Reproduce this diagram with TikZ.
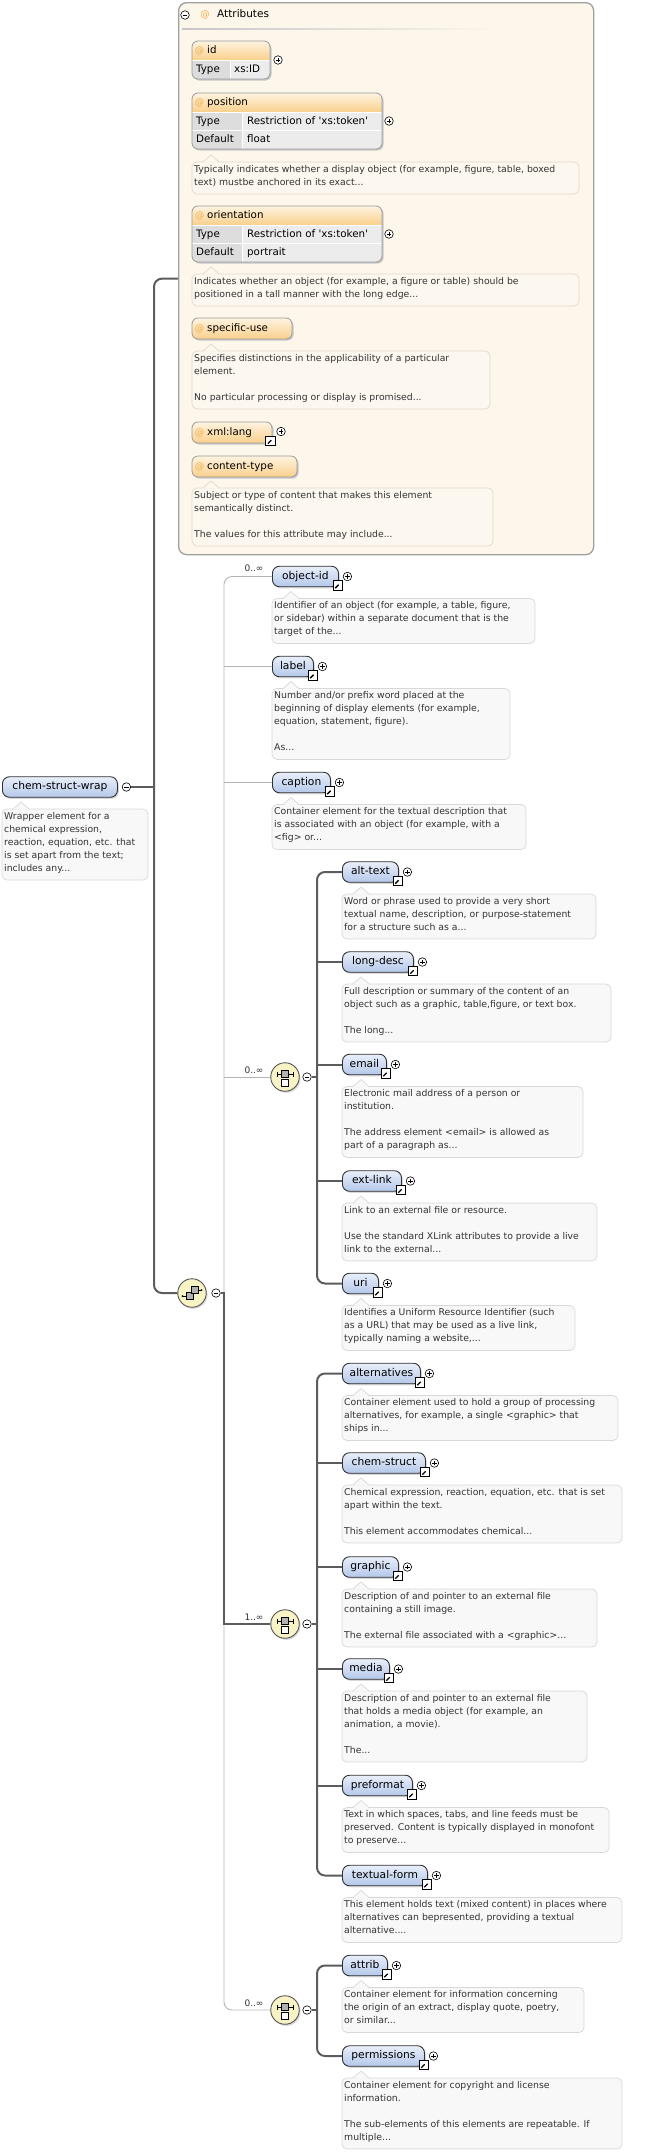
\documentclass[tikz,border=0pt]{standalone}
\usepackage{fontspec}
\setmainfont{DejaVu Sans}
\usetikzlibrary{shadows}
\definecolor{elemtop}{HTML}{E9EFFA}
\definecolor{elembot}{HTML}{B4C8EA}
\definecolor{elemborder}{HTML}{303030}
\definecolor{attrtop}{HTML}{FEF3E0}
\definecolor{attrbot}{HTML}{FAD08C}
\definecolor{attrborder}{HTML}{9A9A9A}
\definecolor{attrcell}{HTML}{ECECEC}
\definecolor{attrtype}{HTML}{DDDDDD}
\definecolor{attrbg}{HTML}{FDF6EA}
\definecolor{attrcontborder}{HTML}{A0A0A0}
\definecolor{descbg}{HTML}{F8F8F8}
\definecolor{descborder}{HTML}{D8D8D8}
\definecolor{adescbg}{HTML}{FCF8F0}
\definecolor{adescborder}{HTML}{E3D9C8}
\definecolor{textgray}{HTML}{333333}
\definecolor{seqfill}{HTML}{F8F3C4}
\definecolor{seqborder}{HTML}{555555}
\definecolor{thickcol}{HTML}{5C5C5C}
\definecolor{thincol}{HTML}{B4B4B4}
\definecolor{atcol}{HTML}{EFAF50}

\newcommand\desc[7]{% kind, name, x, ytop, w, h, text
  \draw[descbox#1] (#3,#4) rectangle ++(#5,#6);
  \fill[descfill#1] (#3+11,#4+0.7) -- (#3+19,#4-7) -- (#3+27,#4+0.7) -- cycle;
  \draw[descline#1] (#3+11,#4) -- (#3+19,#4-7) -- (#3+27,#4);
  \node[desctext, anchor=north west] (#2) at (#3+2,#4+3) {#7};
}
\newcommand\elem[8]{% name, x, y, w, label, descw, nslots, text
  \node[elembox, minimum width=#4pt, anchor=west] (#1) at (#2,#3) {#5};
  \node[plusc] (#1-p) at ([xshift=8.5pt]#1.east) {};
  \node[linkic] (#1-l) at ([xshift=-1pt,yshift=-9pt]#1.east) {};
  \desc{e}{#1-d}{#2}{#3+22}{#6}{#7*13+6}{#8}%
}
\newcommand\attrtwo[7]{% name, ytop, w, typew, title, type, default
  \fill[black!22, rounded corners=6pt] (193.5,#2+1.5) rectangle (192+#3+1.5,#2+57.5);
  \begin{scope}
    \clip[rounded corners=6pt] (192,#2) rectangle (192+#3,#2+56);
    \fill[attrcell] (192,#2) rectangle (192+#3,#2+56);
    \shade[top color=attrtop,bottom color=attrbot] (192,#2) rectangle (192+#3,#2+19);
    \fill[attrtype] (192,#2+19) rectangle (192+#4,#2+56);
    \draw[white,line width=0.9pt] (192,#2+19) -- (192+#3,#2+19) (192,#2+37.5) -- (192+#3,#2+37.5) (192+#4,#2+19) -- (192+#4,#2+56);
  \end{scope}
  \draw[attrborder, line width=0.8pt, rounded corners=6pt] (192,#2) rectangle (192+#3,#2+56);
  \node[atlbl] (#1-at) at (199.5,#2+9.5) {@};
  \node[attrlbl] (#1) at (207,#2+9.5) {#5};
  \node[attrlbl] (#1-t) at (196,#2+28.5) {Type};
  \node[attrlbl] (#1-tv) at (192+#4+5,#2+28.5) {#6};
  \node[attrlbl] (#1-d) at (196,#2+47) {Default};
  \node[attrlbl] (#1-dv) at (192+#4+5,#2+47) {#7};
  \node[plusc] (#1-p) at (192+#3+7,#2+28) {};
}
\newcommand\attrone[4]{% name, ytop, w, title
  \fill[black!22, rounded corners=6pt] (193.5,#2+1.5) rectangle (192+#3+1.5,#2+22.5);
  \shade[top color=attrtop,bottom color=attrbot, rounded corners=6pt] (192,#2) rectangle (192+#3,#2+21);
  \draw[attrborder, line width=0.8pt, rounded corners=6pt] (192,#2) rectangle (192+#3,#2+21);
  \node[atlbl] (#1-at) at (199.5,#2+10.5) {@};
  \node[attrlbl] (#1) at (207,#2+10.5) {#4};
}
\newcommand\choiceicon[2]{%
  \draw[black, line width=0.7pt] (#1-8,#2-3) -- (#1+8,#2-3) (#1-8,#2-5.5) -- (#1-8,#2-0.5) (#1+8,#2-5.5) -- (#1+8,#2-0.5);
  \filldraw[fill=gray!60, draw=black, line width=0.6pt] (#1-3.5,#2-6.5) rectangle (#1+3.5,#2+0.5);
  \filldraw[fill=white, draw=black, line width=0.6pt] (#1-3.5,#2+2.5) rectangle (#1+3.5,#2+9.5);
}

\begin{document}
\begin{tikzpicture}[x=1pt,y=-1pt,
  elembox/.style={draw=elemborder, line width=0.9pt, rounded corners=7pt,
    top color=elemtop, bottom color=elembot, minimum height=20.5pt, inner xsep=5pt, inner ysep=0pt,
    font=\fontsize{10.7}{12}\selectfont, text height=7.8pt, text depth=2.3pt,
    drop shadow={shadow xshift=1.3pt, shadow yshift=-1.6pt, opacity=0.3}},
  plusc/.style={circle, draw, fill=white, line width=0.6pt, minimum size=8.5pt, inner sep=0pt,
    path picture={\draw[line width=0.6pt] ([xshift=-2.4pt]path picture bounding box.center) -- ([xshift=2.4pt]path picture bounding box.center) ([yshift=-2.4pt]path picture bounding box.center) -- ([yshift=2.4pt]path picture bounding box.center);}},
  minusc/.style={circle, draw, fill=white, line width=0.6pt, minimum size=8.5pt, inner sep=0pt,
    path picture={\draw[line width=0.6pt] ([xshift=-2.4pt]path picture bounding box.center) -- ([xshift=2.4pt]path picture bounding box.center);}},
  linkic/.style={draw, line width=0.9pt, fill=white, minimum size=9.5pt, inner sep=0pt,
    path picture={\draw[line width=1.3pt] ([shift={(-2.6pt,-2.6pt)}]path picture bounding box.center) -- ([shift={(1pt,1pt)}]path picture bounding box.center);
      \fill ([shift={(3pt,3pt)}]path picture bounding box.center) -- ([shift={(-1.2pt,3pt)}]path picture bounding box.center) -- ([shift={(3pt,-1.2pt)}]path picture bounding box.center) -- cycle;}},
  descboxe/.style={draw=descborder, fill=descbg, rounded corners=5pt, line width=0.7pt},
  descfille/.style={fill=descbg},
  desclinee/.style={draw=descborder, line width=0.7pt},
  descboxa/.style={draw=adescborder, fill=adescbg, rounded corners=5pt, line width=0.7pt},
  descfilla/.style={fill=adescbg},
  desclinea/.style={draw=adescborder, line width=0.7pt},
  desctext/.style={inner sep=0pt, align=left, text=textgray, font=\fontsize{9.3}{13}\selectfont,
    execute at begin node=\strut, execute at end node=\strut},
  attrlbl/.style={anchor=west, inner sep=0pt, font=\fontsize{10.3}{12}\selectfont, text height=7.6pt, text depth=2.2pt},
  atlbl/.style={inner sep=0pt, text=atcol, font=\fontsize{9.5}{12}\selectfont, text height=7pt, text depth=2pt},
  seqc/.style={circle, draw=seqborder, line width=0.9pt, fill=seqfill, minimum size=28.5pt, inner sep=0pt,
    drop shadow={shadow xshift=1.3pt, shadow yshift=-1.6pt, opacity=0.3}},
  occ/.style={inner sep=0pt, font=\fontsize{9}{11}\selectfont, text=textgray},
  thickc/.style={draw=thickcol, line width=2pt},
  thinc/.style={draw=thincol, line width=0.9pt}
]
\useasboundingbox (0,0) rectangle (648,2153);

% ---------- Attributes container ----------
\node[draw=attrcontborder, line width=1.3pt, fill=attrbg, rounded corners=8pt, anchor=north west,
  minimum width=415pt, minimum height=552pt, inner sep=0pt] (attrs) at (178,2) {};
\node[minusc] (attrs-m) at (185,15) {};
\node[atlbl] (attrs-at) at (205,15) {@};
\node[attrlbl, font=\fontsize{10.5}{12}\selectfont] (attrs-t) at (217,15) {Attributes};
\shade[left color=black!22, right color=attrbg] (182,28.6) rectangle (500,29.6);

% id
\fill[black!22, rounded corners=6pt] (193.5,42.5) rectangle (271.5,80.5);
\begin{scope}
  \clip[rounded corners=6pt] (192,41) rectangle (270,79);
  \fill[attrcell] (192,41) rectangle (270,79);
  \shade[top color=attrtop,bottom color=attrbot] (192,41) rectangle (270,60);
  \fill[attrtype] (192,60) rectangle (230,79);
  \draw[white,line width=0.9pt] (192,60) -- (270,60) (230,60) -- (230,79);
\end{scope}
\draw[attrborder, line width=0.8pt, rounded corners=6pt] (192,41) rectangle (270,79);
\node[atlbl] (id-at) at (199.5,50.5) {@};
\node[attrlbl] (id) at (207,50.5) {id};
\node[attrlbl] (id-t) at (196,69.5) {Type};
\node[attrlbl] (id-tv) at (234,69.5) {xs:ID};
\node[plusc] (id-p) at (278,60) {};

\attrtwo{position}{93}{190}{50}{position}{Restriction of \textquotesingle xs:token\textquotesingle}{float}
\desc{a}{position-d}{192}{162}{387}{32}{Typically indicates whether a display object (for example, figure, table, boxed\\text) mustbe anchored in its exact...}

\attrtwo{orientation}{206}{190}{50}{orientation}{Restriction of \textquotesingle xs:token\textquotesingle}{portrait}
\desc{a}{orientation-d}{192}{274}{387}{32}{Indicates whether an object (for example, a figure or table) should be\\positioned in a tall manner with the long edge...}

\attrone{specuse}{318}{100}{specific-use}
\desc{a}{specuse-d}{192}{351}{298}{58}{Specifies distinctions in the applicability of a particular\\element.\\[13pt]No particular processing or display is promised...}

\attrone{xmllang}{422}{80}{xml:lang}
\node[plusc] (xmllang-p) at (281,431.5) {};
\node[linkic] (xmllang-l) at (270.5,441) {};

\attrone{ctype}{456}{105}{content-type}
\desc{a}{ctype-d}{192}{488}{301}{58}{Subject or type of content that makes this element\\semantically distinct.\\[13pt]The values for this attribute may include...}

% ---------- root element ----------
\node[elembox, minimum width=115pt, anchor=west] (wrap) at (2,787) {chem-struct-wrap};
\node[minusc] (wrap-m) at ([xshift=8.5pt]wrap.east) {};
\desc{e}{wrap-d}{2}{809}{146}{71}{Wrapper element for a\\chemical expression,\\reaction, equation, etc. that\\is set apart from the text;\\includes any...}

% ---------- sequence & choices ----------
\node[seqc] (seq) at (192,1293) {};
\filldraw[fill=gray!60, draw=black, line width=0.6pt] (186,1292.5) rectangle (193,1299.5);
\filldraw[fill=gray!60, draw=black, line width=0.6pt] (191,1286.5) rectangle (198,1293.5);
\draw[black, line width=0.7pt] (182.5,1296) -- (186,1296) (198,1290) -- (201.5,1290);
\fill (182.5,1296) circle (1pt) (201.5,1290) circle (1pt);
\node[minusc] (seq-m) at (216,1293) {};

\node[seqc] (ch1) at (285,1077) {};
\choiceicon{285}{1077}
\node[minusc] (ch1-m) at (307,1077) {};
\node[occ] (ch1-o) at (254,1070) {0..∞};

\node[seqc] (ch2) at (285,1624) {};
\choiceicon{285}{1624}
\node[minusc] (ch2-m) at (307,1624) {};
\node[occ] (ch2-o) at (254,1617) {1..∞};

\node[seqc] (ch3) at (285,2010) {};
\choiceicon{285}{2010}
\node[minusc] (ch3-m) at (307,2010) {};
\node[occ] (ch3-o) at (254,2003) {0..∞};

% ---------- sequence children ----------
\elem{objid}{272}{576.5}{66}{object-id}{263}{3}{Identifier of an object (for example, a table, figure,\\or sidebar) within a separate document that is the\\target of the...}
\node[occ] (objid-o) at (254,568) {0..∞};
\elem{label}{272}{666.5}{41}{label}{238}{5}{Number and/or prefix word placed at the\\beginning of display elements (for example,\\equation, statement, figure).\\[13pt]As...}
\elem{caption}{272}{782.5}{58}{caption}{254}{3}{Container element for the textual description that\\is associated with an object (for example, with a\\<fig> or...}

% choice 1 children
\elem{alttext}{342}{872}{56}{alt-text}{254}{3}{Word or phrase used to provide a very short\\textual name, description, or purpose-statement\\for a structure such as a...}
\elem{longdesc}{342}{962}{71}{long-desc}{269}{4}{Full description or summary of the content of an\\object such as a graphic, table,figure, or text box.\\[13pt]The long...}
\elem{email}{342}{1064.5}{44}{email}{241}{5}{Electronic mail address of a person or\\institution.\\[13pt]The address element <email> is allowed as\\part of a paragraph as...}
\elem{extlink}{342}{1181}{59}{ext-link}{255}{4}{Link to an external file or resource.\\[13pt]Use the standard XLink attributes to provide a live\\link to the external...}
\elem{uri}{342}{1283.5}{36}{uri}{233}{3}{Identifies a Uniform Resource Identifier (such\\as a URL) that may be used as a live link,\\typically naming a website,...}

% choice 2 children
\elem{alternatives}{342}{1373.5}{78}{alternatives}{276}{3}{Container element used to hold a group of processing\\alternatives, for example, a single <graphic> that\\ships in...}
\elem{chemstruct}{342}{1463}{83}{chem-struct}{280}{4}{Chemical expression, reaction, equation, etc. that is set\\apart within the text.\\[13pt]This element accommodates chemical...}
\elem{graphic}{342}{1567}{56}{graphic}{255}{4}{Description of and pointer to an external file\\containing a still image.\\[13pt]The external file associated with a <graphic>...}
\elem{media}{342}{1669}{47}{media}{245}{5}{Description of and pointer to an external file\\that holds a media object (for example, an\\animation, a movie).\\[13pt]The...}
\elem{preformat}{342}{1785.5}{70}{preformat}{267}{3}{Text in which spaces, tabs, and line feeds must be\\preserved. Content is typically displayed in monofont\\to preserve...}
\elem{textualform}{342}{1875.5}{85}{textual-form}{280}{3}{This element holds text (mixed content) in places where\\alternatives can bepresented, providing a textual\\alternative....}

% choice 3 children
\elem{attrib}{342}{1965.5}{45}{attrib}{242}{3}{Container element for information concerning\\the origin of an extract, display quote, poetry,\\or similar...}
\elem{permissions}{342}{2056}{82}{permissions}{280}{5}{Container element for copyright and license\\information.\\[13pt]The sub-elements of this elements are repeatable. If\\multiple...}

% ---------- connectors ----------
\coordinate (trunk) at (154,787);
\coordinate (seqjoin) at (224,1293);
\coordinate (ch1join) at (317,1077);
\coordinate (ch2join) at (317,1624);
\coordinate (ch3join) at (317,2010);

\begin{scope}[on background layer/.style={}]
\draw[thinc, rounded corners=8pt] (objid.west) -| (seqjoin);
\draw[thinc] (label.west) -- (label.west -| seqjoin);
\draw[thinc] (caption.west) -- (caption.west -| seqjoin);
\draw[thinc] (ch1.west) -- (ch1.west -| seqjoin);
\draw[thinc, rounded corners=8pt] (seqjoin |- ch2.west) |- (ch3.west);
\end{scope}

\draw[thickc] (wrap-m.east) -- (trunk);
\draw[thickc, rounded corners=8pt] (attrs.west) -| (trunk) |- (seq.west);
\draw[thickc] (seq-m.east) -- (seqjoin) -- (seqjoin |- ch2.west) -- (ch2.west);

\draw[thickc] (ch1-m.east) -- (ch1join);
\draw[thickc, rounded corners=8pt] (alttext.west) -| (ch1join) |- (uri.west);
\draw[thickc] (longdesc.west) -- (longdesc.west -| ch1join);
\draw[thickc] (email.west) -- (email.west -| ch1join);
\draw[thickc] (extlink.west) -- (extlink.west -| ch1join);

\draw[thickc] (ch2-m.east) -- (ch2join);
\draw[thickc, rounded corners=8pt] (alternatives.west) -| (ch2join) |- (textualform.west);
\draw[thickc] (chemstruct.west) -- (chemstruct.west -| ch2join);
\draw[thickc] (graphic.west) -- (graphic.west -| ch2join);
\draw[thickc] (media.west) -- (media.west -| ch2join);
\draw[thickc] (preformat.west) -- (preformat.west -| ch2join);

\draw[thickc] (ch3-m.east) -- (ch3join);
\draw[thickc, rounded corners=8pt] (attrib.west) -| (ch3join) |- (permissions.west);
\end{tikzpicture}
\end{document}
